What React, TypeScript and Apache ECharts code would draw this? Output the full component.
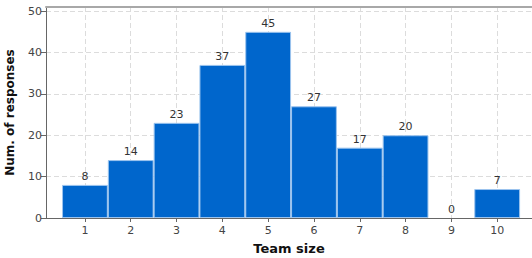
import React, { useEffect, useRef } from "react";
import * as echarts from "echarts";

const teamSizes = [1, 2, 3, 4, 5, 6, 7, 8, 9, 10];
const responses = [8, 14, 23, 37, 45, 27, 17, 20, 0, 7];
const xTitle = "Team size";
const yTitle = "Num. of responses";

export default function App() {
  const ref = useRef<HTMLDivElement>(null);
  useEffect(() => {
    if (!ref.current) return;
    const chart = echarts.init(ref.current, null, { renderer: "svg" });
    const font = "DejaVu Sans, Verdana, sans-serif";
    chart.setOption({
      animation: false,
      grid: { left: 46, right: 0, top: 7, bottom: 40, containLabel: false, outerBoundsMode: "none" },
      xAxis: [
        {
          type: "value",
          min: 0.15,
          max: 10.76,
          name: xTitle,
          nameLocation: "middle",
          nameGap: 24,
          nameTextStyle: { fontFamily: font, fontWeight: "bold", fontSize: 13, color: "#111" },
          axisLine: { show: true, onZero: false, lineStyle: { color: "#666", width: 1 } },
          axisTick: { show: true, length: 4, customValues: teamSizes, lineStyle: { color: "#666" } },
          axisLabel: {
            fontFamily: font,
            fontSize: 11,
            color: "#444",
            margin: 7,
            customValues: teamSizes,
          },
          splitLine: { show: true, lineStyle: { type: [5, 3], color: "#dcdcdc", width: 1 } },
        },
        {
          type: "value",
          position: "top",
          min: 0.15,
          max: 10.76,
          axisLine: { show: true, onZero: false, lineStyle: { color: "#a8a8a8", width: 2 } },
          axisTick: { show: false },
          axisLabel: { show: false },
          splitLine: { show: false },
        },
      ],
      yAxis: {
        type: "value",
        min: 0,
        max: 51,
        interval: 10,
        name: yTitle,
        nameLocation: "middle",
        nameGap: 30,
        nameTextStyle: { fontFamily: font, fontWeight: "bold", fontSize: 12, color: "#111" },
        axisLine: { show: true, lineStyle: { color: "#666", width: 1 } },
        axisTick: { show: true, length: 5, lineStyle: { color: "#666" } },
        axisLabel: {
          fontFamily: font,
          fontSize: 11,
          color: "#444",
          margin: 4,
          showMaxLabel: false,
          formatter: (v: number) => (v % 10 === 0 ? String(v) : ""),
        },
        splitLine: { show: true, lineStyle: { type: [5, 3], color: "#dcdcdc", width: 1 } },
      },
      series: [
        {
          type: "bar",
          xAxisIndex: 0,
          data: teamSizes.map((x, i) =>
            responses[i] === 0
              ? { value: [x, responses[i]], itemStyle: { borderWidth: 0 } }
              : { value: [x, responses[i]] }
          ),
          barWidth: 45.8,
          itemStyle: { color: "#0066cc", borderColor: "#9cc4ee", borderWidth: 1 },
          label: {
            show: true,
            position: "top",
            distance: 3,
            fontFamily: font,
            fontSize: 11,
            color: "#333",
          },
        },
      ],
    });
    return () => chart.dispose();
  }, []);
  return (
    <div
      ref={ref}
      style={{ position: "fixed", left: 0, top: 0, width: 532, height: 258, background: "#fff" }}
    />
  );
}
